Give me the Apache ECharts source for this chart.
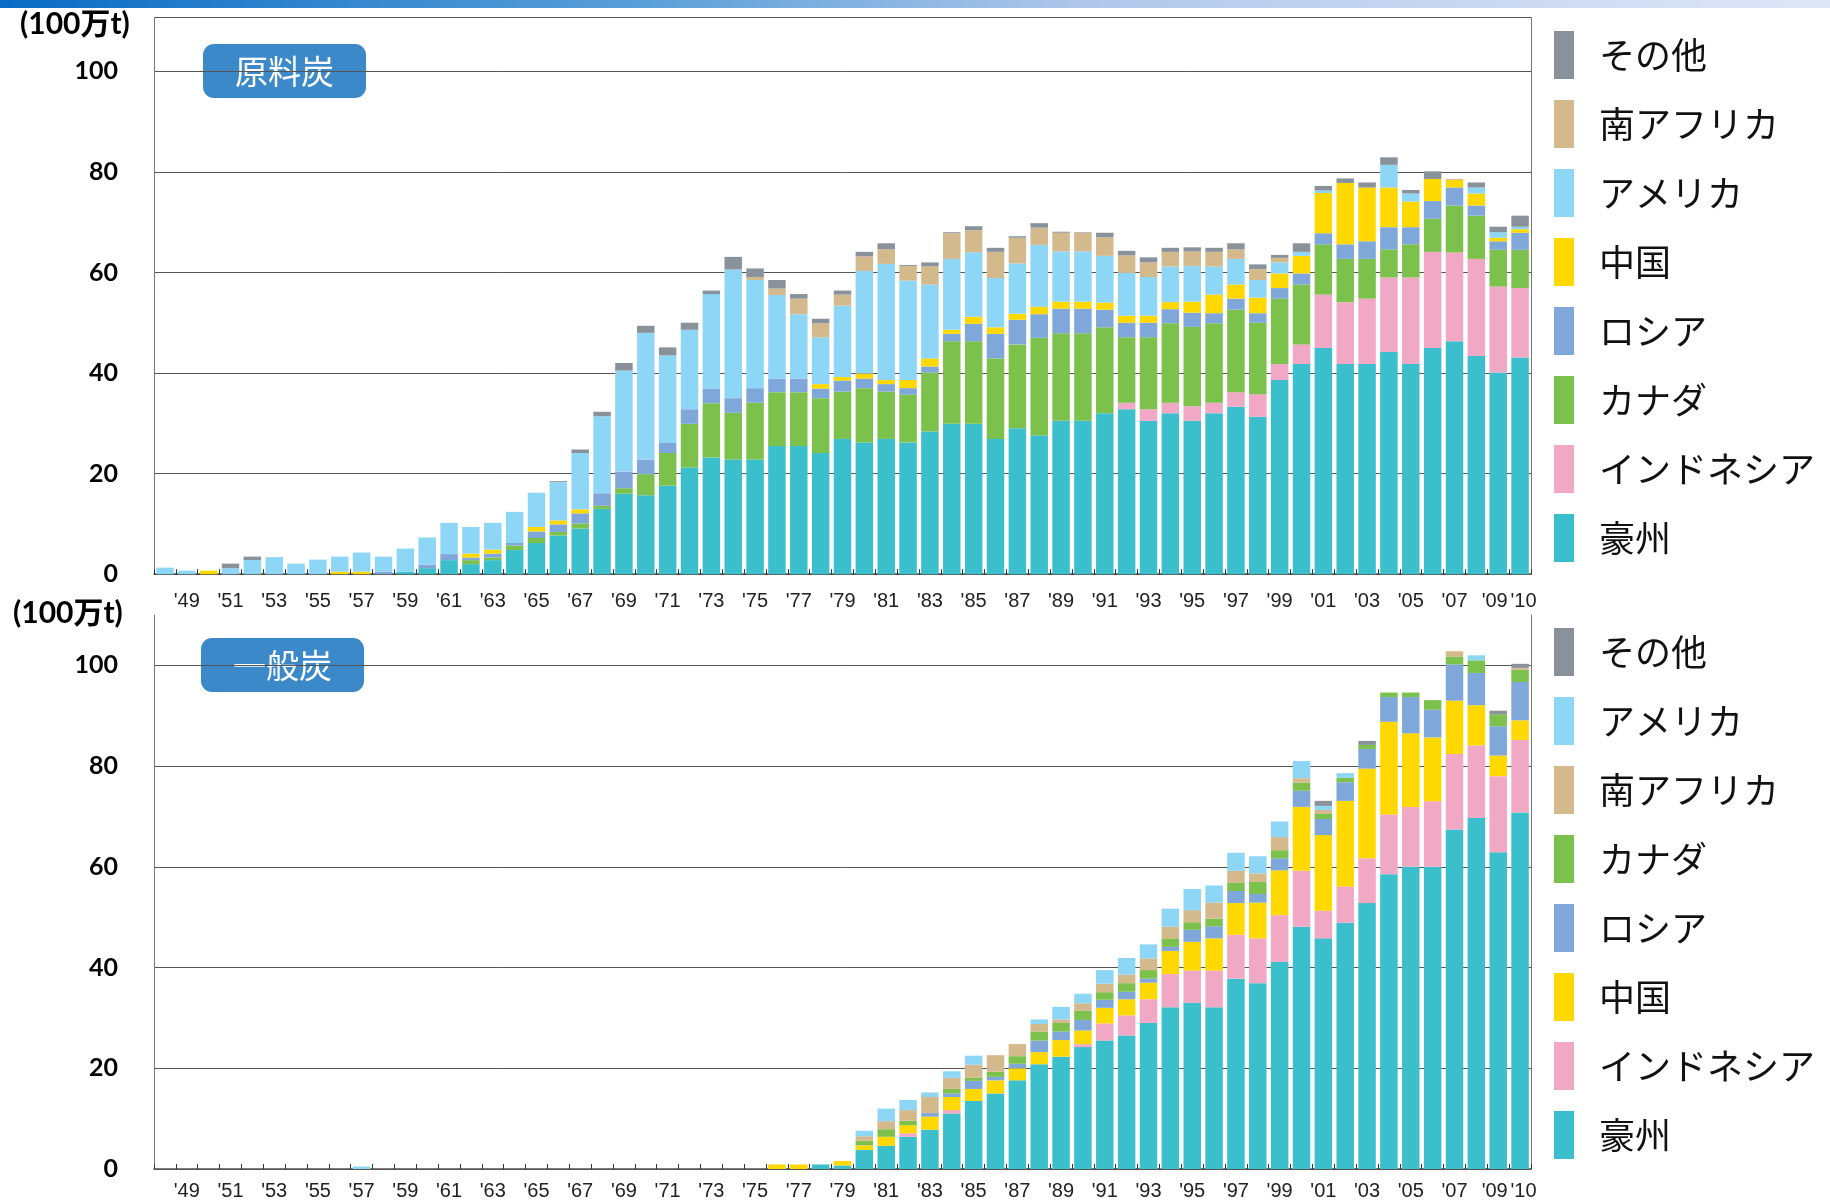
<!DOCTYPE html>
<html><head><meta charset="utf-8">
<script src="https://cdn.jsdelivr.net/npm/echarts@6/dist/echarts.min.js"></script>
<style>html,body{margin:0;padding:0;background:#fff}#c{width:1830px;height:1201px}</style>
</head><body><div id="c"></div>
<script>
// Years 1948 - 2010
const years = [];
for (let y = 1948; y <= 2010; y++) years.push(String(y));
const yTicks = [0, 20, 40, 60, 80, 100];

// ===== 原料炭 (coking coal), 100万t =====
// rows: 48-49 | 50s | 60s | 70s | 80s | 90s | 00s | 2010
const ck_aus = [0,0,
 0,0,0,0,0,0,0,0,0,0.5,
 1.2,2.8,2.0,2.8,4.8,6.2,7.7,9.1,13.0,16.0,
 15.7,17.6,21.2,23.2,22.8,22.8,25.5,25.5,24.1,26.9,
 26.2,26.9,26.2,28.4,29.9,29.9,26.9,29.0,27.6,30.5,
 30.5,32.0,32.8,30.5,32.0,30.5,32.0,33.3,31.3,38.6,
 41.8,45.0,41.8,41.8,44.2,41.8,45.0,46.3,43.4,40.1,
 43.1];
const ck_idn = [0,0,
 0,0,0,0,0,0,0,0,0,0,
 0,0,0,0,0,0,0,0,0,0,
 0,0,0,0,0,0,0,0,0,0,
 0,0,0,0,0,0,0,0,0,0,
 0,0,1.3,2.3,2.1,2.9,2.1,2.9,4.5,3.2,
 3.9,10.6,12.3,13.0,14.8,17.2,19.1,17.7,19.3,17.1,
 13.8];
const ck_can = [0,0,
 0,0,0,0,0,0,0,0,0,0,
 0,0,0.8,0.5,0.9,1.0,0.7,1.0,0.6,1.1,
 4.2,6.5,8.7,10.8,9.3,11.3,10.7,10.7,10.9,9.4,
 10.8,9.4,9.5,11.7,16.4,16.4,16.0,16.7,19.4,17.4,
 17.4,17.1,13.0,14.3,15.8,15.8,15.8,16.4,14.2,13.0,
 11.9,10.0,8.6,7.9,5.6,6.6,6.6,9.3,8.6,7.3,
 7.6];
const ck_rus = [0,0,
 0,0,0,0,0,0,0,0,0.5,0,
 0.7,1.2,0.5,0.8,0.5,1.3,1.5,2.0,2.5,3.3,
 2.9,2.0,2.9,2.9,2.9,2.9,2.7,2.7,1.9,2.2,
 1.9,1.5,1.3,1.2,1.5,3.5,4.9,4.9,4.7,4.9,
 4.9,3.5,2.9,2.9,2.8,2.8,2.0,2.2,1.9,2.1,
 2.2,2.2,2.9,3.5,4.4,3.4,3.5,3.6,2.0,1.7,
 3.4];
const ck_chn = [0,0,
 0.7,0,0,0,0,0,0.5,0.5,0,0,
 0,0,0.8,0.8,0,0.9,0.8,0.8,0,0,
 0,0,0,0,0,0,0,0,0.9,0.7,
 1.0,0.8,1.6,1.6,0.8,1.4,1.3,1.2,1.5,1.4,
 1.4,1.4,1.4,1.4,1.4,2.2,3.7,2.8,3.1,2.9,
 3.5,8.0,12.2,10.7,7.9,5.1,4.4,1.5,2.4,0.7,
 0.7];
const ck_usa = [1.3,0.7,
 0,1.2,2.8,3.4,2.1,2.9,3.0,3.8,3.0,4.6,
 5.4,6.2,5.3,5.3,6.2,6.8,7.6,11.2,15.3,20.1,
 25.2,17.4,15.8,18.8,25.6,21.5,16.6,12.8,9.3,14.2,
 20.4,23.1,19.8,14.7,14.1,12.8,9.8,10.0,12.3,10.0,
 10.0,9.3,8.5,7.7,7.1,7.1,5.6,5.1,3.5,2.2,
 0.8,0.5,0,0,4.5,1.6,0,0,1.2,1.1,
 0.5];
const ck_zaf = [0,0,
 0,0,0,0,0,0,0,0,0,0,
 0,0,0,0,0,0,0,0,0,0,
 0,0,0,0,0,0.6,1.3,3.1,2.8,2.2,
 2.9,2.9,2.9,3.6,5.1,4.4,5.2,5.1,3.4,3.7,
 3.7,3.7,3.5,2.9,2.9,2.9,2.9,1.9,2.2,0.9,
 0,0,0,0,0,0,0,0.2,0,0,
 0];
const ck_oth = [0,0,
 0,0.9,0.7,0,0,0,0,0,0,0,
 0,0,0,0,0,0,0.2,0.7,0.9,1.5,
 1.4,1.6,1.4,0.7,2.5,1.7,1.7,0.9,0.9,0.8,
 0.9,1.2,0.2,0.8,0.2,0.8,0.8,0.3,0.9,0.2,
 0.1,0.9,0.9,1.0,0.8,0.8,0.8,1.2,0.9,0.6,
 1.7,0.9,0.9,1.0,1.5,0.7,1.5,0,1.0,1.1,
 2.2];

// ===== 一般炭 (steaming coal), 100万t =====
const st_aus = [0,0,
 0,0,0,0,0,0,0,0,0,0,
 0,0,0,0,0,0,0,0,0,0,
 0,0,0,0,0,0,0,0,0.9,0.7,
 3.8,4.6,6.4,7.8,11.0,13.5,15.0,17.6,20.8,22.3,
 24.2,25.5,26.5,29.0,32.1,33.0,32.1,37.8,36.9,41.1,
 48.1,45.8,48.9,52.8,58.5,60.0,60.0,67.4,69.7,62.9,
 70.8];
const st_idn = [0,0,
 0,0,0,0,0,0,0,0,0,0,
 0,0,0,0,0,0,0,0,0,0,
 0,0,0,0,0,0,0,0,0,0,
 0,0,0.7,0,0.7,0,0,0,0,0,
 0.6,3.4,4.0,4.7,6.6,6.4,7.3,8.7,8.9,9.3,
 11.1,5.5,7.2,8.9,11.9,11.9,13.0,15.0,14.4,15.1,
 14.4];
const st_chn = [0,0,
 0,0,0,0,0,0,0,0,0,0,
 0,0,0,0,0,0,0,0,0,0,
 0,0,0,0,0,0,0.9,0.9,0,0.9,
 0.9,1.8,1.6,2.6,2.6,2.4,2.6,2.4,2.4,3.3,
 2.7,3.1,3.2,3.3,4.6,5.7,6.4,6.3,7.1,8.9,
 12.7,15.0,17.0,17.8,18.4,14.6,12.7,10.6,8.0,4.1,
 3.9];
const st_rus = [0,0,
 0,0,0,0,0,0,0,0,0,0,
 0,0,0,0,0,0,0,0,0,0,
 0,0,0,0,0,0,0,0,0,0,
 0,0,0,0.7,0.7,1.6,0.7,0.9,2.3,1.7,
 2.1,1.6,1.5,0.8,0.8,2.4,2.4,2.4,1.7,2.4,
 3.2,3.2,3.7,3.9,4.9,7.2,5.5,7.2,6.4,5.8,
 7.6];
const st_can = [0,0,
 0,0,0,0,0,0,0,0,0,0,
 0,0,0,0,0,0,0,0,0,0,
 0,0,0,0,0,0,0,0,0,0,
 0.9,1.5,0.9,0,0.9,0.6,1.0,1.5,1.8,1.7,
 1.8,1.5,1.7,1.7,1.7,1.5,1.5,1.6,2.4,1.6,
 1.6,1.0,0.9,0.8,0.9,0.9,1.9,1.5,2.5,2.4,
 2.4];
const st_zaf = [0,0,
 0,0,0,0,0,0,0,0,0,0,
 0,0,0,0,0,0,0,0,0,0,
 0,0,0,0,0,0,0,0,0,0,
 0.9,1.6,2.1,3.2,2.2,2.6,3.3,2.4,1.5,0.7,
 1.5,1.7,1.7,2.3,2.3,2.4,3.2,2.4,1.7,2.6,
 0.9,0.8,0,0,0,0,0,1.1,0,0,
 0.4];
const st_usa = [0,0,
 0,0,0,0,0,0,0,0.5,0,0,
 0,0,0,0,0,0,0,0,0,0,
 0,0,0,0,0,0,0,0,0,0,
 1.1,2.5,2.0,0.9,1.3,1.8,0,0,0.9,2.5,
 1.9,2.7,3.3,2.8,3.6,4.2,3.4,3.6,3.4,3.1,
 3.4,0.8,0.9,0,0,0,0,0,1.0,0,
 0];
const st_oth = [0,0,
 0,0,0,0,0,0,0,0,0,0,
 0,0,0,0,0,0,0,0,0,0,
 0,0,0,0,0,0,0,0,0,0,
 0,0,0,0,0,0,0,0,0,0,
 0,0,0,0,0,0,0,0,0,0,
 0,1.0,0,0.8,0,0,0,0,0,0.7,
 0.8];

const topLegend = ['その他','南アフリカ','アメリカ','中国','ロシア','カナダ','インドネシア','豪州'];
const botLegend = ['その他','アメリカ','南アフリカ','カナダ','ロシア','中国','インドネシア','豪州'];

const colors = {
  '豪州':'#3bbfcc','インドネシア':'#f1a8c4','カナダ':'#7cc14b','ロシア':'#7fa7d9',
  '中国':'#ffd800','アメリカ':'#8ed6f6','南アフリカ':'#d3b98b','その他':'#89929b'
};

// bottom -> top stacking order
const topStack = [['豪州',ck_aus],['インドネシア',ck_idn],['カナダ',ck_can],['ロシア',ck_rus],
  ['中国',ck_chn],['アメリカ',ck_usa],['南アフリカ',ck_zaf],['その他',ck_oth]];
const botStack = [['豪州',st_aus],['インドネシア',st_idn],['中国',st_chn],['ロシア',st_rus],
  ['カナダ',st_can],['南アフリカ',st_zaf],['アメリカ',st_usa],['その他',st_oth]];

const series = [];
topStack.forEach(([n, d]) => series.push({name:n, type:'bar', stack:'top', xAxisIndex:0, yAxisIndex:0,
  data:d, barWidth:'80%', itemStyle:{color:colors[n]}, emphasis:{disabled:true}, animation:false}));
botStack.forEach(([n, d]) => series.push({name:n, type:'bar', stack:'bot', xAxisIndex:1, yAxisIndex:1,
  data:d, barWidth:'80%', itemStyle:{color:colors[n]}, emphasis:{disabled:true}, animation:false}));

const xAxisBase = (gi, margin) => ({
  type:'category', gridIndex:gi, data:years,
  axisLine:{lineStyle:{color:'#555', width:1.5}},
  axisTick:{show:true, inside:true, length:5, interval:0, lineStyle:{color:'#333'}},
  axisLabel:{
    interval:0,
    formatter:v => {
      if (v === '2009') return "{l|'09}";
      if (v === '2010') return "{r|'10}";
      return (+v % 2 === 1) ? "'" + v.slice(2) : '';
    },
    rich:{
      l:{padding:[0,7,0,0], fontFamily:'"Liberation Sans", Arial, sans-serif', fontSize:20, color:'#222'},
      r:{padding:[0,0,0,7], fontFamily:'"Liberation Sans", Arial, sans-serif', fontSize:20, color:'#222'}
    },
    hideOverlap:false,
    fontFamily:'"Liberation Sans", Arial, sans-serif', fontSize:20, color:'#222', margin:margin
  }
});
const yAxisBase = (gi, max, lineColors) => ({
  type:'value', gridIndex:gi, min:0, max:max, interval:20,
  axisLine:{show:true, lineStyle:{color:'#777'}}, axisTick:{show:false},
  axisLabel:{fontFamily:'Lato, "Noto Sans", sans-serif', fontWeight:'bold', fontSize:25, color:'#000', margin:36,
    formatter:v => yTicks.indexOf(v) >= 0 ? String(v) : ''},
  splitLine:{show:true, lineStyle:{color:lineColors, width:1}}
});

const titleBox = (x, y, label) => ({
  type:'group', left:x, top:y, children:[
    {type:'rect', shape:{x:0, y:0, width:163, height:54, r:11}, style:{fill:'#3c89c9'}},
    {type:'text', style:{x:81.5, y:27, text:label, fill:'#fff', font:'33px "Noto Sans CJK JP"', align:'center', verticalAlign:'middle'}}
  ]});
const unitText = (x, y) => ({type:'text', left:x, top:y,
  style:{text:'(100万t)', fill:'#000', font:'bold 30px Lato, "Noto Sans CJK JP"'}});

const legendBase = (top, data) => ({
  orient:'vertical', left:1549, top:top, data:data, selectedMode:false,
  itemWidth:20, itemHeight:48, itemGap:21, icon:'rect',
  textStyle:{fontFamily:'"Noto Sans CJK JP"', fontSize:36, color:'#111', padding:[0,0,0,20]}
});

const option = {
  animation:false,
  grid:[
    {left:154, right:299, top:17.5, height:556.7},
    {left:154, right:299, top:615, height:554.5}
  ],
  xAxis:[xAxisBase(0, 17), xAxisBase(1, 12)],
  yAxis:[
    yAxisBase(0, 110.7, ['#555']),
    yAxisBase(1, 110, ['#555','#555','#555','#555','#555','#555','rgba(0,0,0,0)']),
    {type:'value', gridIndex:0, position:'right', min:0, max:110.7, axisLine:{show:true, lineStyle:{color:'#777'}},
     axisLabel:{show:false}, axisTick:{show:false}, splitLine:{show:false}},
    {type:'value', gridIndex:1, position:'right', min:0, max:110, axisLine:{show:true, lineStyle:{color:'#777'}},
     axisLabel:{show:false}, axisTick:{show:false}, splitLine:{show:false}}
  ],
  legend:[legendBase(26, topLegend), legendBase(623, botLegend)],
  series:series,
  graphic:[
    {type:'rect', left:0, top:0, shape:{width:1830, height:8},
     style:{fill:new echarts.graphic.LinearGradient(0,0,1,0,[
       {offset:0, color:'#0a6bc4'},{offset:0.35, color:'#5a9fd8'},{offset:0.6, color:'#b2c8ea'},{offset:1, color:'#dfe6f7'}])}},
    unitText(20, 9),
    unitText(13, 598),
    titleBox(203, 44, '原料炭'),
    titleBox(201, 638, '一般炭')
  ]
};
const chart = echarts.init(document.getElementById('c'), null, {renderer:'canvas'});
chart.setOption(option);
</script></body></html>
